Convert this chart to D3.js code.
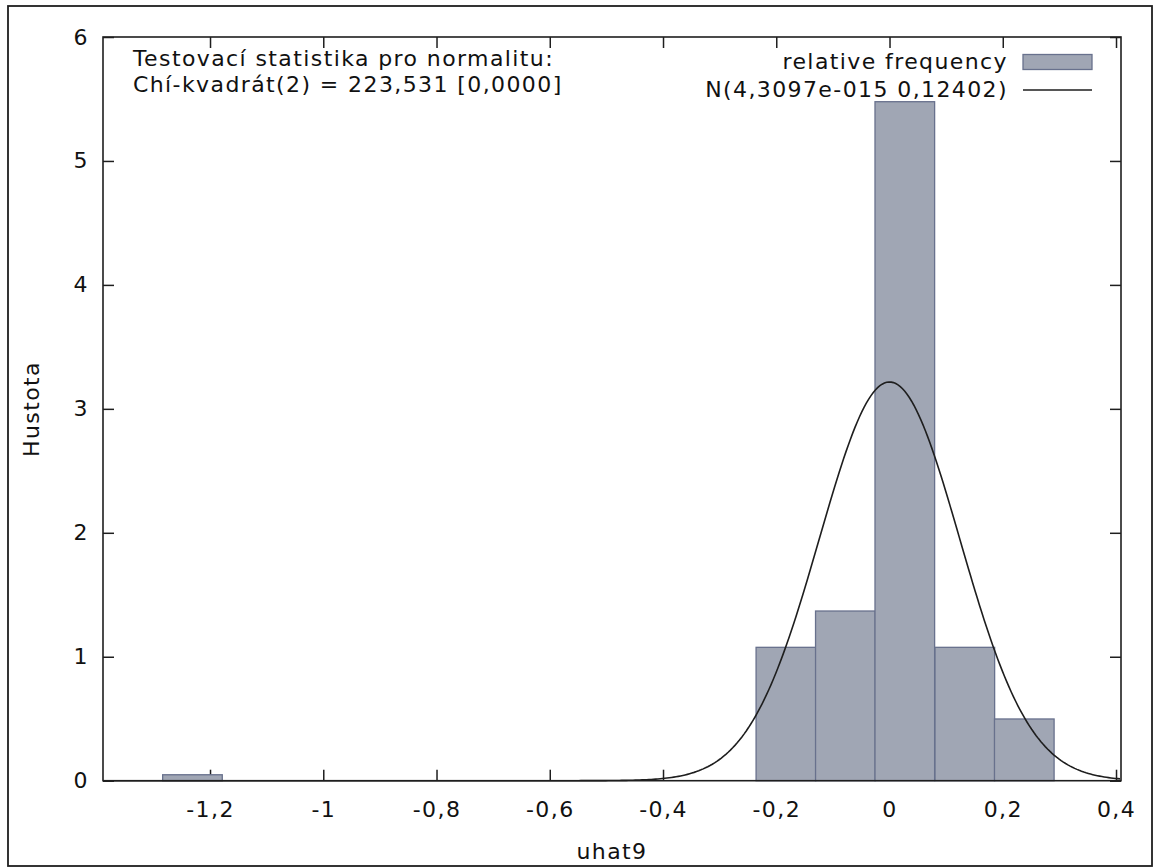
<!DOCTYPE html>
<html>
<head>
<meta charset="utf-8">
<script src="https://cdn.jsdelivr.net/npm/d3@7"></script>
<style>
  body { margin: 0; background: #fff; }
  text { font-family: "DejaVu Sans", Verdana, sans-serif; fill: #111; }
</style>
</head>
<body>
<svg width="1160" height="868"></svg>
<script>
// histogram of uhat9 (bin centres and relative-frequency densities)
var binCenters = [-1.231, -0.183, -0.078, 0.027, 0.133, 0.238];
var binDensity = [0.048, 1.076, 1.369, 5.478, 1.076, 0.498];
var binWidth = 0.1053;

// fitted normal from the legend
var normMean = 4.3097e-15;
var normSd = 0.12402;

var xTicks = [-1.2, -1, -0.8, -0.6, -0.4, -0.2, 0, 0.2, 0.4];
var yTicks = [0, 1, 2, 3, 4, 5, 6];

var statLines = ["Testovací statistika pro normalitu:",
                 "Chí-kvadrát(2) = 223,531 [0,0000]"];
var legendLabels = ["relative frequency", "N(4,3097e-015 0,12402)"];

var fontSize = 22, spacing = 1.4;
var barFill = "#a0a6b4", barStroke = "#68718d", ink = "#1e1e1e";

var svg = d3.select("svg");
var pLeft = 103, pTop = 37, pRight = 1121, pBottom = 780.7;

var x = d3.scaleLinear().domain([-1.389, 0.4088]).range([pLeft, pRight]);
var y = d3.scaleLinear().domain([0, 6]).range([pBottom, pTop]);

var fmt = d3.formatLocale({decimal: ",", thousands: " ", grouping: [3],
                           currency: ["", ""], minus: "-"}).format(".1~f");

// outer frame
svg.append("rect")
  .attr("x", 8).attr("y", 6).attr("width", 1144).attr("height", 860)
  .attr("fill", "none").attr("stroke", ink).attr("stroke-width", 1.8);

function styleAxis(g) {
  g.select(".domain").remove();
  g.selectAll("line").attr("stroke", ink).attr("stroke-width", 1.5);
  g.selectAll("text")
    .style("font-size", fontSize + "px")
    .style("letter-spacing", spacing + "px")
    .attr("fill", "#111");
}

svg.append("g").attr("transform", "translate(0," + pBottom + ")")
  .call(d3.axisBottom(x).tickValues(xTicks).tickFormat(fmt)
        .tickSizeInner(-11).tickSizeOuter(0).tickPadding(21))
  .call(styleAxis);
svg.append("g").attr("transform", "translate(0," + pTop + ")")
  .call(d3.axisTop(x).tickValues(xTicks).tickFormat("")
        .tickSizeInner(-11).tickSizeOuter(0))
  .call(styleAxis);
svg.append("g").attr("transform", "translate(" + pLeft + ",0)")
  .call(d3.axisLeft(y).tickValues(yTicks).tickFormat(d3.format("d"))
        .tickSizeInner(-11).tickSizeOuter(0).tickPadding(14))
  .call(styleAxis);
svg.append("g").attr("transform", "translate(" + pRight + ",0)")
  .call(d3.axisRight(y).tickValues(yTicks).tickFormat("")
        .tickSizeInner(-11).tickSizeOuter(0))
  .call(styleAxis);

// bars
svg.append("g").selectAll("rect")
  .data(binCenters)
  .join("rect")
  .attr("x", function(d) { return x(d - binWidth / 2); })
  .attr("width", function(d) { return x(d + binWidth / 2) - x(d - binWidth / 2); })
  .attr("y", function(d, i) { return y(binDensity[i]); })
  .attr("height", function(d, i) { return y(0) - y(binDensity[i]); })
  .attr("fill", barFill).attr("stroke", barStroke).attr("stroke-width", 1.3);

// normal density curve
var curveX = d3.range(x.domain()[0], x.domain()[1] + 0.001, 0.004);
function pdf(v) {
  var z = (v - normMean) / normSd;
  return Math.exp(-0.5 * z * z) / (normSd * Math.sqrt(2 * Math.PI));
}
svg.append("path")
  .datum(curveX)
  .attr("d", d3.line().x(function(d) { return x(d); })
                      .y(function(d) { return y(pdf(d)); }))
  .attr("fill", "none").attr("stroke", ink).attr("stroke-width", 1.6);

// plot border
svg.append("rect")
  .attr("x", pLeft).attr("y", pTop)
  .attr("width", pRight - pLeft).attr("height", pBottom - pTop)
  .attr("fill", "none").attr("stroke", ink).attr("stroke-width", 1.6);

// statistic text
svg.append("g").selectAll("text")
  .data(statLines)
  .join("text")
  .attr("x", 133)
  .attr("y", function(d, i) { return 66 + i * 26; })
  .style("font-size", fontSize + "px")
  .style("letter-spacing", spacing + "px")
  .text(function(d) { return d; });

// legend
var legend = svg.append("g");
legend.selectAll("text")
  .data(legendLabels)
  .join("text")
  .attr("x", 1008)
  .attr("y", function(d, i) { return 69 + i * 28; })
  .attr("text-anchor", "end")
  .style("font-size", fontSize + "px")
  .style("letter-spacing", spacing + "px")
  .text(function(d) { return d; });
legend.append("rect")
  .attr("x", 1023).attr("y", 54.5).attr("width", 69).attr("height", 15)
  .attr("fill", barFill).attr("stroke", barStroke).attr("stroke-width", 1.3);
legend.append("line")
  .attr("x1", 1023).attr("x2", 1092).attr("y1", 90).attr("y2", 90)
  .attr("stroke", ink).attr("stroke-width", 1.6);

// axis titles
svg.append("text")
  .attr("x", (pLeft + pRight) / 2).attr("y", 859)
  .attr("text-anchor", "middle")
  .style("font-size", fontSize + "px")
  .style("letter-spacing", spacing + "px")
  .text("uhat9");
svg.append("text")
  .attr("transform", "translate(39,409) rotate(-90)")
  .attr("text-anchor", "middle")
  .style("font-size", fontSize + "px")
  .style("letter-spacing", spacing + "px")
  .text("Hustota");
</script>
</body>
</html>
